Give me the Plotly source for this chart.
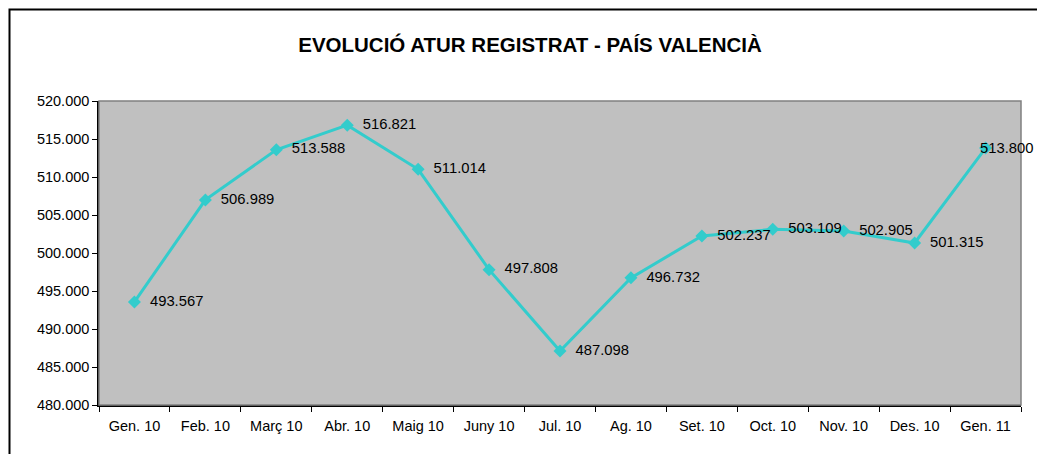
import plotly.graph_objects as go

months = ["Gen. 10", "Feb. 10", "Març 10", "Abr. 10", "Maig 10", "Juny 10", "Jul. 10",
          "Ag. 10", "Set. 10", "Oct. 10", "Nov. 10", "Des. 10", "Gen. 11"]
atur = [493567, 506989, 513588, 516821, 511014, 497808, 487098,
        496732, 502237, 503109, 502905, 501315, 513800]

W, H = 1037, 454
L, R, T, B = 99, 16, 101, 49


def fmt(v):
    return f"{v:,}".replace(",", ".")


labels = ["  " + fmt(v) for v in atur[:-1]] + [""]

fig = go.Figure()
fig.add_trace(go.Scatter(
    x=months, y=atur,
    mode="lines+markers+text",
    line=dict(color="#33CCCC", width=3),
    marker=dict(symbol="diamond", size=10, color="#33CCCC"),
    text=labels,
    textposition="middle right",
    textfont=dict(family="Liberation Sans, Arial", size=14.8, color="black"),
    cliponaxis=False,
    showlegend=False,
))
# last label is pushed back over its marker to fit, as in the original
fig.add_annotation(x=months[-1], y=atur[-1], text=fmt(atur[-1]), showarrow=False,
                   xanchor="left", xshift=-8, yanchor="middle",
                   font=dict(family="Liberation Sans, Arial", size=14.8, color="black"))

# outer chart frame (cut off at the right and bottom like the original)
pw, ph = W - L - R, H - T - B
fig.add_shape(type="rect", xref="paper", yref="paper",
              x0=(9.5 - L) / pw, x1=1.2, y0=-0.5, y1=1 + (T - 9.5) / ph,
              line=dict(color="black", width=2), layer="below")
# plot area border (grey top/right)
fig.add_shape(type="rect", xref="paper", yref="paper", x0=0, x1=1, y0=0, y1=1,
              line=dict(color="#808080", width=1.5))

fig.update_layout(
    width=W, height=H,
    margin=dict(l=L, r=R, t=T, b=B),
    paper_bgcolor="white",
    plot_bgcolor="#C0C0C0",
    separators=",.",
    font=dict(family="Liberation Sans, Arial", size=14.5, color="black"),
    title=dict(text="<b>EVOLUCIÓ ATUR REGISTRAT - PAÍS VALENCIÀ</b>",
               x=530 / W, xanchor="center", y=1 - 45 / H, yanchor="middle",
               yref="container", font=dict(size=20.5)),
)
fig.update_xaxes(
    type="category", range=[-0.5, 12.5],
    showgrid=False, showline=True, linecolor="black", linewidth=1.5,
    ticks="outside", tickson="boundaries", ticklen=5, tickcolor="black",
    tickfont=dict(size=14.5), ticklabelstandoff=7,
)
fig.update_yaxes(
    range=[480000, 520000], dtick=5000, tickformat=",.0f",
    showgrid=False, showline=True, linecolor="black", linewidth=1.5,
    ticks="outside", ticklen=5, tickcolor="black", zeroline=False,
    tickfont=dict(size=14.5),
)

# drop the default page margin so the figure fills the window exactly
fig.write_html("out.html", config={"displayModeBar": False},
               post_script="document.body.style.margin='0';document.body.style.overflow='hidden';")
